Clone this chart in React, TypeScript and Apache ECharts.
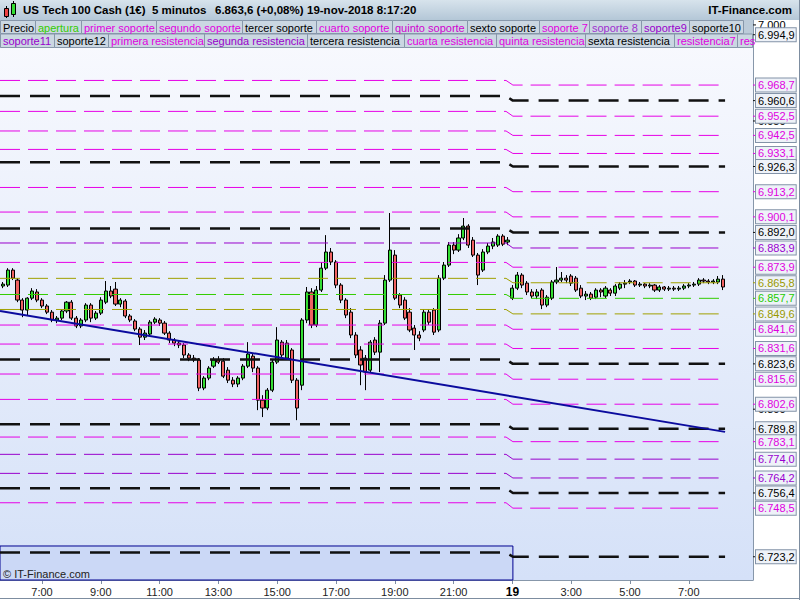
import React, { useEffect, useRef } from 'react';
import * as echarts from 'echarts';

const FONT = '"Liberation Sans", Arial, sans-serif';

// ---- time axis (10-minute bar index; session gap removed) ----
const xMin = 33.43;
const xMax = 187.1;
const day1Start = 34;
const day2Start = 138;
const sessionBoundary = 138.1;
const levelSwitchFrom = 136.7;
const levelEnd = 181.4;
const timeTickValues = [42, 54, 66, 78, 90, 102, 114, 126, 138, 150, 162, 174];
const timeTickLabels = ['7:00', '9:00', '11:00', '13:00', '15:00', '17:00', '19:00', '21:00', '19', '3:00', '5:00', '7:00'];

// ---- price axis ----
const yMin = 6711.1;
const yMax = 7003.6;
const priceTicks = [7000, 6950, 6800];

// ---- candles [open, close, low, high] ----
const day1Candles = [
  [6864.1, 6865.1, 6863.0, 6866.2], [6864.6, 6872.4, 6863.6, 6873.4], [6872.4, 6868.2, 6867.2, 6873.4],
  [6867.2, 6856.8, 6855.7, 6868.2], [6856.8, 6851.6, 6847.9, 6857.8], [6851.6, 6857.8, 6849.0, 6858.3],
  [6857.8, 6861.5, 6856.8, 6863.0], [6861.0, 6856.8, 6855.7, 6862.5], [6856.8, 6853.7, 6852.6, 6857.8],
  [6853.7, 6850.5, 6849.5, 6854.7], [6850.5, 6846.4, 6845.3, 6851.6], [6846.4, 6847.4, 6844.8, 6848.5],
  [6847.4, 6851.1, 6846.4, 6852.1], [6851.1, 6855.7, 6850.0, 6856.3], [6855.7, 6847.4, 6846.4, 6856.8],
  [6847.4, 6843.3, 6842.2, 6848.5], [6843.3, 6846.4, 6842.2, 6847.4], [6846.4, 6854.2, 6845.3, 6855.2],
  [6854.2, 6847.4, 6845.3, 6855.2], [6847.4, 6850.0, 6846.4, 6851.1], [6850.0, 6856.8, 6849.0, 6858.3],
  [6855.7, 6861.5, 6854.7, 6866.7], [6861.5, 6858.9, 6857.8, 6864.1], [6862.5, 6854.7, 6853.7, 6866.2],
  [6854.7, 6856.8, 6853.1, 6857.8], [6856.3, 6848.5, 6847.4, 6857.3], [6848.5, 6846.4, 6845.3, 6849.5],
  [6845.9, 6841.7, 6840.6, 6846.9], [6841.7, 6837.5, 6833.4, 6842.7], [6837.5, 6839.6, 6836.0, 6841.2],
  [6839.1, 6845.3, 6838.0, 6846.4], [6845.3, 6846.9, 6844.3, 6847.9], [6846.4, 6844.8, 6843.3, 6847.4],
  [6844.8, 6839.6, 6838.6, 6845.9], [6839.6, 6836.0, 6834.4, 6840.6], [6836.0, 6834.4, 6832.8, 6837.0],
  [6834.4, 6833.4, 6831.8, 6835.4], [6833.4, 6828.2, 6826.6, 6834.4], [6828.2, 6826.6, 6825.0, 6829.2],
  [6826.6, 6825.6, 6824.5, 6828.2], [6825.6, 6811.0, 6809.4, 6826.6], [6811.0, 6816.2, 6809.9, 6817.2],
  [6816.2, 6821.4, 6815.1, 6822.4], [6822.4, 6825.6, 6821.4, 6827.1], [6825.6, 6824.5, 6823.5, 6827.6],
  [6825.0, 6817.2, 6816.2, 6826.6], [6820.3, 6815.1, 6813.6, 6821.9], [6815.1, 6813.1, 6811.5, 6816.7],
  [6813.1, 6816.2, 6811.5, 6817.2], [6816.2, 6822.4, 6815.1, 6823.5], [6822.4, 6828.7, 6821.4, 6834.9],
  [6827.6, 6821.4, 6819.3, 6828.7], [6821.4, 6804.7, 6799.5, 6822.4], [6804.7, 6800.6, 6795.9, 6807.3],
  [6800.6, 6809.9, 6799.5, 6811.0], [6809.9, 6824.5, 6808.9, 6825.6], [6824.5, 6836.0, 6823.5, 6842.7],
  [6834.9, 6828.2, 6826.6, 6836.0], [6826.6, 6834.4, 6825.6, 6836.0], [6830.8, 6815.1, 6813.6, 6831.8],
  [6815.1, 6800.6, 6794.3, 6816.2], [6812.5, 6846.4, 6809.9, 6847.4], [6846.4, 6861.0, 6844.8, 6863.6],
  [6861.0, 6843.8, 6842.2, 6863.0], [6843.8, 6862.0, 6842.7, 6864.1], [6862.0, 6873.4, 6861.0, 6876.6],
  [6873.4, 6881.8, 6872.4, 6890.6], [6881.8, 6876.6, 6875.0, 6883.9], [6876.6, 6864.6, 6863.0, 6877.6],
  [6864.6, 6856.8, 6855.2, 6865.6], [6856.8, 6849.0, 6847.4, 6857.8], [6850.5, 6838.6, 6837.0, 6852.6],
  [6838.6, 6828.2, 6826.6, 6840.1], [6830.8, 6823.0, 6812.5, 6832.8], [6826.6, 6819.3, 6809.9, 6828.2],
  [6820.3, 6834.9, 6819.3, 6836.0], [6836.0, 6829.7, 6828.2, 6837.5], [6829.7, 6844.8, 6819.3, 6846.4],
  [6844.8, 6867.2, 6843.8, 6869.8], [6867.2, 6882.8, 6866.2, 6902.1], [6880.2, 6857.8, 6856.8, 6882.8],
  [6859.4, 6854.2, 6852.6, 6860.4], [6856.8, 6847.4, 6846.4, 6858.3], [6850.5, 6841.2, 6840.1, 6852.6],
  [6842.2, 6838.6, 6830.8, 6843.8], [6838.6, 6837.0, 6835.4, 6840.6], [6841.2, 6850.5, 6840.1, 6852.1],
  [6850.5, 6845.3, 6843.8, 6852.1], [6851.6, 6840.1, 6838.6, 6852.6], [6841.2, 6868.2, 6840.1, 6869.8],
  [6868.2, 6875.0, 6867.2, 6876.6], [6875.0, 6885.4, 6874.0, 6887.0], [6885.4, 6882.8, 6880.7, 6887.0],
  [6882.8, 6889.1, 6881.8, 6891.1], [6889.1, 6895.3, 6888.0, 6899.5], [6895.3, 6885.4, 6883.9, 6896.3],
  [6888.0, 6880.2, 6879.2, 6889.6], [6880.2, 6869.8, 6864.6, 6881.3], [6872.4, 6881.8, 6871.4, 6883.3],
  [6881.8, 6884.9, 6880.7, 6886.5], [6884.9, 6887.0, 6883.3, 6889.1], [6885.4, 6890.1, 6884.4, 6891.1],
  [6890.1, 6885.9, 6884.9, 6891.1], [6887.0, 6888.0, 6885.4, 6889.6],
];
const day2Candles = [
  [6857.8, 6863.0, 6856.8, 6864.6], [6863.0, 6869.8, 6862.0, 6871.4], [6869.8, 6864.6, 6863.0, 6870.8],
  [6865.6, 6861.0, 6859.4, 6866.7], [6861.0, 6858.9, 6857.8, 6862.5], [6858.9, 6861.0, 6857.3, 6862.5],
  [6862.0, 6854.2, 6852.1, 6863.0], [6854.2, 6858.3, 6853.1, 6859.4], [6857.8, 6866.2, 6856.8, 6867.2],
  [6866.2, 6867.2, 6865.1, 6874.0], [6867.2, 6868.2, 6866.2, 6871.4], [6868.2, 6867.2, 6865.6, 6869.8],
  [6869.3, 6865.6, 6864.1, 6870.3], [6868.2, 6862.0, 6861.0, 6869.3], [6863.0, 6858.9, 6857.8, 6864.6],
  [6858.9, 6859.9, 6856.8, 6861.5], [6859.9, 6857.8, 6856.8, 6861.0], [6858.3, 6862.0, 6857.3, 6863.0],
  [6862.0, 6861.0, 6858.3, 6863.0], [6858.9, 6863.0, 6857.8, 6864.1], [6862.0, 6860.4, 6858.9, 6863.0],
  [6860.4, 6864.1, 6858.9, 6865.1], [6863.0, 6865.1, 6862.0, 6866.2], [6865.1, 6865.6, 6863.0, 6867.2],
  [6866.2, 6866.7, 6865.1, 6867.7], [6866.7, 6864.6, 6863.6, 6867.2], [6864.6, 6865.1, 6863.6, 6866.2],
  [6865.1, 6864.1, 6863.0, 6865.6], [6864.1, 6864.6, 6863.0, 6865.6], [6864.6, 6862.0, 6861.0, 6865.1],
  [6862.0, 6863.6, 6861.0, 6864.6], [6863.6, 6862.5, 6861.5, 6864.1], [6862.5, 6863.0, 6861.5, 6864.1],
  [6863.0, 6862.5, 6861.5, 6864.1], [6862.5, 6863.0, 6861.5, 6864.1], [6863.0, 6864.1, 6862.0, 6865.1],
  [6864.1, 6864.6, 6863.0, 6865.6], [6864.6, 6865.1, 6863.6, 6866.2], [6865.1, 6867.2, 6864.1, 6868.2],
  [6867.2, 6866.7, 6865.6, 6868.2], [6866.7, 6866.2, 6865.1, 6867.7], [6866.2, 6866.7, 6865.1, 6867.7],
  [6866.2, 6867.7, 6865.1, 6869.3], [6867.7, 6863.6, 6862.0, 6869.8],
];

// ---- support / resistance levels (previous session -> current session) ----
const levelRight = [6994.9, 6968.7, 6960.6, 6952.5, 6942.5, 6933.1, 6926.3, 6913.2, 6900.1, 6892.0, 6883.9, 6873.9, 6865.8, 6857.7, 6849.6, 6841.6, 6831.6, 6823.6, 6815.6, 6802.6, 6789.8, 6783.1, 6774.0, 6764.2, 6756.4, 6748.5, 6723.2];
const levelLeft = [6997.3, 6971.1, 6963.0, 6955.0, 6944.8, 6935.2, 6928.5, 6915.4, 6902.6, 6894.1, 6886.5, 6876.4, 6868.1, 6859.7, 6851.9, 6843.8, 6833.9, 6825.9, 6818.3, 6805.1, 6792.2, 6785.5, 6776.5, 6766.6, 6758.8, 6751.3, 6725.4];
const levelKind = ['k', 'm', 'k', 'm', 'm', 'm', 'k', 'm', 'm', 'k', 'p', 'm', 'o', 'g', 'o', 'm', 'm', 'k', 'm', 'm', 'k', 'm', 'p', 'p', 'k', 'm', 'k'];

// ---- trend line & range box ----
const trendStart = 6851.1;
const trendEnd = 6788.2;
const rangeBoxTop = 6728.8;

// ---- legend ----
const legendRow1 = ['Precio', 'apertura', 'primer soporte', 'segundo soporte', 'tercer soporte', 'cuarto soporte', 'quinto soporte', 'sexto soporte', 'soporte 7', 'soporte 8', 'soporte9', 'soporte10'];
const legendRow1Colors = ['#000000', '#33cc00', '#e000e0', '#e000e0', '#000000', '#e000e0', '#d000d0', '#000000', '#e000e0', '#a030d0', '#9900cc', '#000000'];
const legendRow1Edges = [0, 35, 81, 156, 242, 316, 392, 467, 539, 589, 641, 689, 743];
const legendRow2 = ['soporte11', 'soporte12', 'primera resistencia', 'segunda resistencia', 'tercera resistencia', 'cuarta resistencia', 'quinta resistencia', 'sexta resistencia', 'resistencia7', 'resistencia8'];
const legendRow2Colors = ['#9900cc', '#000000', '#e000e0', '#9900cc', '#000000', '#e000e0', '#e000e0', '#000000', '#e000e0', '#e000e0'];
const legendRow2Edges = [0, 54, 108, 204, 307, 404, 496, 585, 674, 737, 753];

const LINE_COLORS: Record<string, string> = { k: '#111111', m: '#e600e6', p: '#9900cc', o: '#a0a000', g: '#33cc00' };
const TEXT_COLORS: Record<string, string> = { k: '#000000', m: '#e000e0', p: '#9a00d0', o: '#999900', g: '#22cc00' };

function fmtPrice(v: number, withDec: boolean): string {
  const s = v.toFixed(1);
  const [i, d] = s.split('.');
  const iF = i.replace(/\B(?=(\d{3})+(?!\d))/g, '.');
  return withDec ? iF + ',' + d : iF;
}

function legendGraphics(): any[] {
  const els: any[] = [];
  const addRow = (names: string[], colors: string[], edges: number[], y: number, h: number) => {
    names.forEach((n, i) => {
      const x0 = edges[i];
      const w = Math.min(edges[i + 1], 752) - x0;
      els.push({ type: 'rect', shape: { x: x0 + 0.5, y: y + 0.5, width: w, height: h }, style: { fill: '#cbd7e2', stroke: '#8797aa', lineWidth: 1 }, z: 100 });
      els.push({
        type: 'text', x: x0 + 3, y: y + h / 2 + 1, z: 101,
        style: { text: n, fill: colors[i], font: '11px ' + FONT, textVerticalAlign: 'middle', width: w + 4, overflow: 'truncate', ellipsis: '' },
      });
    });
  };
  els.push({ type: 'rect', shape: { x: 0, y: 20, width: 753, height: 28 }, style: { fill: '#bccbd9' }, z: 99 });
  addRow(legendRow1, legendRow1Colors, legendRow1Edges, 20, 13);
  addRow(legendRow2, legendRow2Colors, legendRow2Edges, 33.5, 13.5);
  return els;
}

export default function App() {
  const ref = useRef<HTMLDivElement>(null);
  useEffect(() => {
    if (!ref.current) return;
    const chart = echarts.init(ref.current, undefined, { renderer: 'svg' });

    const candleData = [
      ...day1Candles.map((d, i) => [day1Start + i, ...d]),
      ...day2Candles.map((d, i) => [day2Start + i, ...d]),
    ];

    const levelSeries = levelRight.map((r, i) => {
      const k = levelKind[i];
      const thick = k === 'k';
      return {
        type: 'line',
        name: 'nivel ' + fmtPrice(r, true),
        data: [[xMin, levelLeft[i]], [levelSwitchFrom, levelLeft[i]], [sessionBoundary, r], [levelEnd, r]],
        symbol: 'none',
        silent: true,
        z: 3,
        lineStyle: { color: LINE_COLORS[k], width: thick ? 2.5 : 1, type: thick ? [20, 10] : [20, 8] },
      };
    });

    const rich: any = {
      ax: { color: '#000', fontSize: 11, fontFamily: FONT, padding: [0, 0, 0, 2] },
      tk: { width: 3, height: 1, backgroundColor: '#000' },
    };
    Object.keys(LINE_COLORS).forEach((k) => {
      rich['t' + k] = { width: 3, height: 1, backgroundColor: LINE_COLORS[k] };
      rich['b' + k] = {
        color: TEXT_COLORS[k], fontSize: 11, fontFamily: FONT, backgroundColor: '#eef2f8',
        borderColor: '#8393a8', borderWidth: 1, padding: [1, 1, 1, 2], lineHeight: 13,
      };
    });

    const titleFont = 'bold 11.5px ' + FONT;
    const option: any = {
      animation: false,
      textStyle: { fontFamily: FONT },
      grid: {
        left: 0, right: 47, top: 18, bottom: 20, show: true, borderWidth: 0,
        backgroundColor: new echarts.graphic.LinearGradient(0, 0, 0, 1, [
          { offset: 0, color: '#f9fafe' },
          { offset: 1, color: '#d5e1f8' },
        ]),
      },
      xAxis: {
        type: 'value', min: xMin, max: xMax,
        axisLine: { show: true, lineStyle: { color: '#8797aa' } },
        axisTick: { show: true, customValues: timeTickValues, length: 4, lineStyle: { color: '#7f8fa2' } },
        axisLabel: {
          customValues: timeTickValues, margin: 6, fontSize: 11, color: '#222', fontFamily: FONT,
          formatter: (v: number) => {
            const i = timeTickValues.findIndex((t) => Math.abs(t - v) < 0.01);
            const s = i >= 0 ? timeTickLabels[i] : '';
            return s === '19' ? '{b|19}' : s;
          },
          rich: { b: { fontWeight: 'bold', fontSize: 12, color: '#000', fontFamily: FONT } },
        },
        splitLine: { show: false },
      },
      yAxis: {
        type: 'value', position: 'right', min: yMin, max: yMax,
        axisLine: { show: true, lineStyle: { color: '#8797aa' } },
        axisTick: { show: false },
        splitLine: { show: false },
        axisLabel: {
          customValues: [...priceTicks, ...levelRight], margin: 0, fontSize: 11, fontFamily: FONT,
          formatter: (v: number) => {
            const i = levelRight.findIndex((t) => Math.abs(t - v) < 0.001);
            if (i < 0) return '{tk|}{ax|' + fmtPrice(v, false) + '}';
            const k = levelKind[i];
            return '{t' + k + '|}{b' + k + '|' + fmtPrice(v, true) + '}';
          },
          rich,
        },
      },
      graphic: [
        { type: 'rect', shape: { x: 0, y: 0, width: 800, height: 20 }, z: 100,
          style: { fill: new echarts.graphic.LinearGradient(0, 0, 0, 1, [{ offset: 0, color: '#d7e3ec' }, { offset: 1, color: '#b4c7d7' }]) } },
        { type: 'line', shape: { x1: 6.5, y1: 6, x2: 6.5, y2: 18 }, style: { stroke: '#000' }, z: 101 },
        { type: 'rect', shape: { x: 4.5, y: 8.5, width: 4, height: 8 }, style: { fill: '#ee4444', stroke: '#000' }, z: 102 },
        { type: 'line', shape: { x1: 13.5, y1: 1, x2: 13.5, y2: 17 }, style: { stroke: '#000' }, z: 101 },
        { type: 'rect', shape: { x: 11.5, y: 3.5, width: 4, height: 11 }, style: { fill: '#33dd33', stroke: '#000' }, z: 102 },
        { type: 'text', x: 23, y: 10, z: 101, style: { text: 'US Tech 100 Cash (1€)', font: titleFont, fill: '#000', textVerticalAlign: 'middle' } },
        { type: 'text', x: 152, y: 10, z: 101, style: { text: '5 minutos', font: titleFont, fill: '#000', textVerticalAlign: 'middle' } },
        { type: 'text', x: 215, y: 10, z: 101, style: { text: '6.863,6 (+0,08%)', font: titleFont, fill: '#000', textVerticalAlign: 'middle' } },
        { type: 'text', x: 307, y: 10, z: 101, style: { text: '19-nov-2018 8:17:20', font: titleFont, fill: '#000', textVerticalAlign: 'middle' } },
        { type: 'text', x: 792, y: 10, z: 101, style: { text: 'IT-Finance.com', font: titleFont, fill: '#000', textAlign: 'right', textVerticalAlign: 'middle' } },
        ...legendGraphics(),
        { type: 'text', x: 3, y: 574, z: 50, style: { text: '© IT-Finance.com', font: '11px ' + FONT, fill: '#222', textVerticalAlign: 'middle' } },
        { type: 'line', shape: { x1: 799.5, y1: 0, x2: 799.5, y2: 600 }, style: { stroke: '#7d8da0' }, z: 100 },
        { type: 'line', shape: { x1: 0, y1: 598.5, x2: 800, y2: 598.5 }, style: { stroke: '#7d8da0' }, z: 100 },
      ],
      series: [
        {
          type: 'line', name: 'rango', data: [], silent: true, z: 1,
          markArea: {
            silent: true,
            itemStyle: { color: '#cbd8f6', borderColor: '#000090', borderWidth: 1 },
            data: [[{ coord: [xMin, rangeBoxTop] }, { coord: [sessionBoundary, yMin] }]],
          },
        },
        {
          type: 'candlestick', name: 'Precio', data: candleData, z: 2,
          encode: { x: 0, y: [1, 2, 3, 4] },
          barWidth: 3.6,
          itemStyle: { color: '#33dd33', color0: '#f06262', borderColor: '#000', borderColor0: '#000', borderWidth: 1 },
        },
        ...levelSeries,
        {
          type: 'line', name: 'tendencia', data: [[xMin, trendStart], [levelEnd, trendEnd]],
          symbol: 'none', silent: true, z: 4, lineStyle: { color: '#0b0b9e', width: 2 },
        },
      ],
    };
    chart.setOption(option);
    return () => chart.dispose();
  }, []);
  return <div ref={ref} style={{ position: 'fixed', left: 0, top: 0, width: 800, height: 600, background: '#fff' }} />;
}
